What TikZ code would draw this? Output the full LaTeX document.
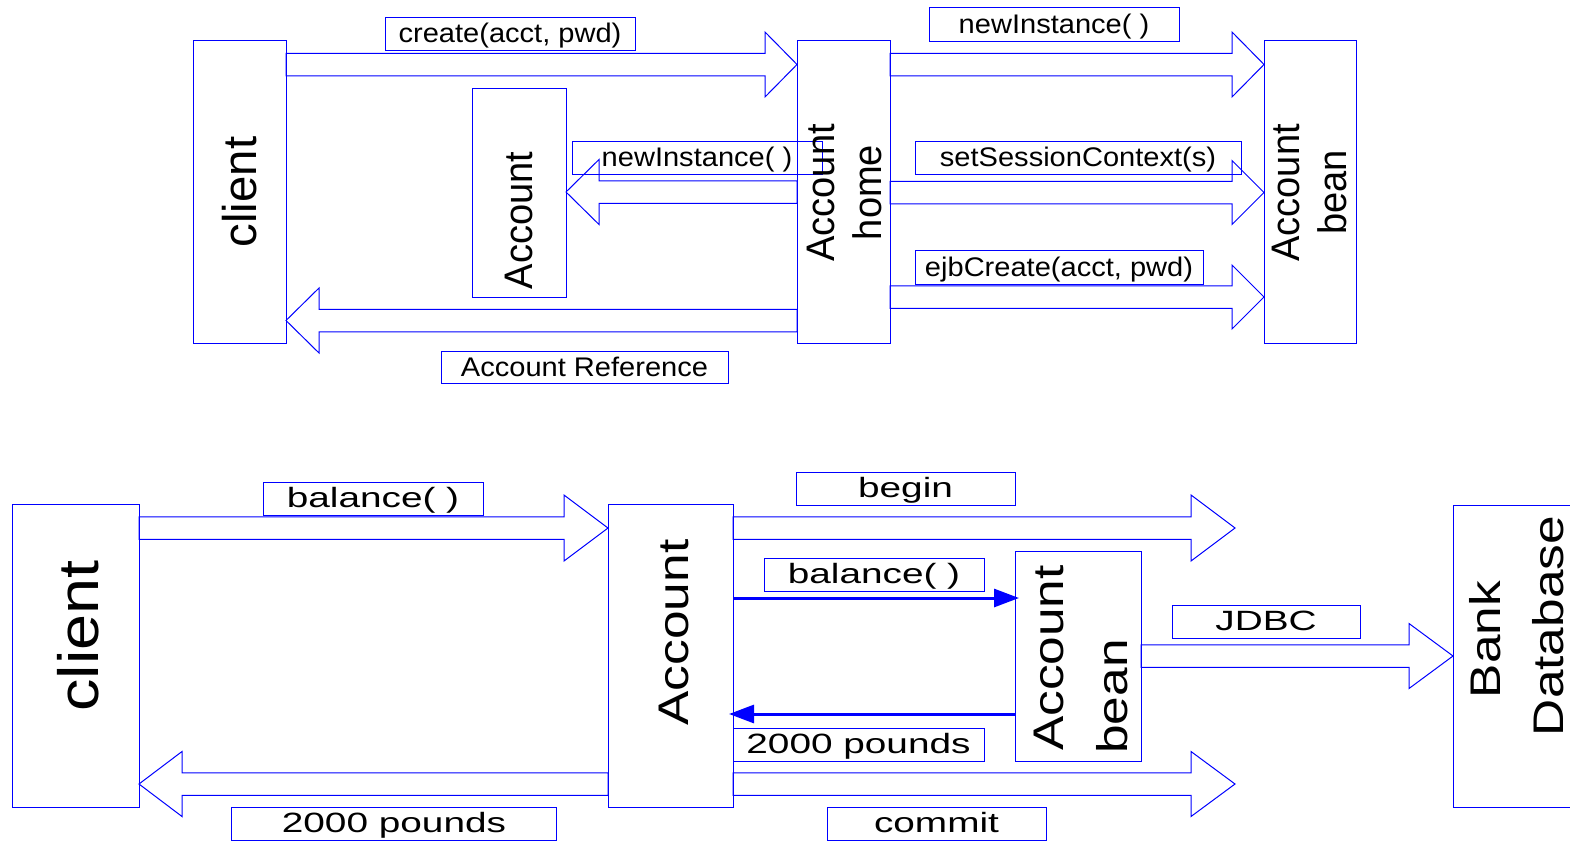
\documentclass[tikz,border=0pt]{standalone}
\usepackage{fontspec}
\setmainfont{Liberation Sans}
\newfontfamily\toplabelfont[FakeStretch=1.08]{Liberation Sans}
\newfontfamily\topbigfont[FakeStretch=0.955]{Liberation Sans}
\newfontfamily\botlabelfont[FakeStretch=1.39]{Liberation Sans}
\newfontfamily\botbigfont[FakeStretch=1.2]{Liberation Sans}
\newfontfamily\botclientfont[FakeStretch=1.14]{Liberation Sans}
\usetikzlibrary{calc,arrows.meta}

% hollow block arrow: #1 start anchor, #2 end anchor, #3 axis y, #4 head length, #5 head half width
\newcommand\blockarrow[5]{%
  \draw[blk] let \p1=(#1), \p2=(#2), \p3=(0,#3),
      \n1={ifthenelse(\x2>\x1,1,-1)} in
    (\x1,{\y3+11.25bp}) -- ({\x2-(\n1)*#4},{\y3+11.25bp})
    -- ({\x2-(\n1)*#4},{\y3+#5}) -- (\x2,\y3)
    -- ({\x2-(\n1)*#4},{\y3-#5}) -- ({\x2-(\n1)*#4},{\y3-11.25bp})
    -- (\x1,{\y3-11.25bp}) -- cycle;}

\tikzset{
  box/.style={draw=blue, line width=1bp, inner sep=0pt, outer sep=0pt, rectangle},
  tlabel/.style={box, text height=24bp, text depth=6bp,
    font=\toplabelfont\fontsize{27}{30}\selectfont},
  blabel/.style={box, text height=24bp, text depth=6bp,
    font=\botlabelfont\fontsize{28}{30}\selectfont},
  vtext/.style={rotate=90, anchor=base, inner sep=0pt},
  vtop/.style={vtext, font=\topbigfont\fontsize{40}{47}\selectfont},
  vtopclient/.style={vtext, font=\fontsize{47.5}{50}\selectfont},
  vbot/.style={vtext, font=\botbigfont\fontsize{43}{50}\selectfont},
  vbotclient/.style={vtext, font=\botclientfont\fontsize{57}{60}\selectfont},
  blk/.style={draw=blue, line width=1bp, line join=miter},
  callarrow/.style={draw=blue, line width=3bp, shorten >=-4bp,
    -{Triangle[length=25bp,width=18bp]}},
}

\begin{document}
\begin{tikzpicture}[x=1bp, y=-1bp]
\useasboundingbox (0,0) rectangle (1570,841);

% ---------- creation sequence ----------
\node[box, minimum width=93bp, minimum height=302bp] (cA) at (239.5,192) {};
\node[box, minimum width=94bp, minimum height=209bp] (accA) at (519,192.5) {};
\node[box, minimum width=93bp, minimum height=302bp] (home) at (843.5,192) {};
\node[box, minimum width=92bp, minimum height=302bp] (beanA) at (1310,192) {};

\blockarrow{cA.east}{home.west}{64.5}{32bp}{32.5bp}
\blockarrow{home.east}{beanA.west}{64.5}{32bp}{32.5bp}
\blockarrow{home.east}{beanA.west}{192.5}{32bp}{32bp}
\blockarrow{home.east}{beanA.west}{297}{32bp}{32bp}
\blockarrow{home.west}{accA.east}{192}{33bp}{32.5bp}
\blockarrow{home.west}{cA.east}{320.5}{33bp}{32.5bp}

\node[tlabel, minimum width=250bp, minimum height=33bp] (lcreate) at (510,33.5) {create(acct, pwd)};
\node[tlabel, minimum width=250bp, minimum height=33bp] (lnew1) at (1054,24.5) {newInstance( )};
\node[tlabel, minimum width=250bp, minimum height=33bp] (lnew2) at (697,157.5) {newInstance( )};
\node[tlabel, minimum width=326bp, minimum height=33bp] (lsess) at (1078,157.5) {setSessionContext(s)};
\node[tlabel, minimum width=288bp, minimum height=34bp] (lejb) at (1059,267) {ejbCreate(acct, pwd)};
\node[tlabel, minimum width=287bp, minimum height=32bp] (lref) at (584.5,367) {Account Reference};

\node[vtopclient] (tcA) at (256,192) {client};
\node[vtop] (taccA) at (532,220.5) {Account};
\node[vtop] (thome1) at (834,193) {Account};
\node[vtop] (thome2) at (881,192.5) {home};
\node[vtop] (tbeanA1) at (1299,193) {Account};
\node[vtop] (tbeanA2) at (1346,192.5) {bean};

% ---------- balance query ----------
\node[box, minimum width=126bp, minimum height=303bp] (cB) at (76,655.5) {};
\node[box, minimum width=125bp, minimum height=303bp] (accB) at (670.5,655.5) {};
\node[box, minimum width=126bp, minimum height=210bp] (beanB) at (1078,656) {};
\node[box, minimum width=147bp, minimum height=302bp] (db) at (1526.5,656) {};

\coordinate (beginEnd) at (1235,528);
\coordinate (commitEnd) at (1235,784);
\blockarrow{cB.east}{accB.west}{528}{44bp}{33bp}
\blockarrow{accB.east}{beginEnd}{528}{44bp}{33bp}
\blockarrow{beanB.east}{db.west}{656}{44bp}{32.5bp}
\blockarrow{accB.east}{commitEnd}{784}{44bp}{32.5bp}
\blockarrow{accB.west}{cB.east}{784}{43bp}{32.5bp}

\draw[callarrow] let \p1=(accB.east), \p2=(beanB.west), \p3=(0,598) in (\x1,\y3) -- (\x2,\y3);
\draw[callarrow] let \p1=(beanB.west), \p2=(accB.east), \p3=(0,714) in (\x1,\y3) -- (\x2,\y3);

\node[blabel, minimum width=220bp, minimum height=33bp] (lbal1) at (373,498.5) {balance( )};
\node[blabel, minimum width=325bp, minimum height=33bp] (lpnd1) at (394,823.5) {2000 pounds};
\node[blabel, minimum width=219bp, minimum height=33bp] (lbegin) at (905.5,488.5) {begin};
\node[blabel, minimum width=220bp, minimum height=33bp] (lbal2) at (874,574.5) {balance( )};
\node[blabel, minimum width=251bp, minimum height=33bp] (lpnd2) at (858.5,744.5) {2000 pounds};
\node[blabel, minimum width=219bp, minimum height=33bp] (lcommit) at (936.5,823.5) {commit};
\node[blabel, minimum width=188bp, minimum height=33bp] (ljdbc) at (1266,621.5) {JDBC};

\node[vbotclient] (tcB) at (98,636) {client};
\node[vbot] (taccB) at (688,632.5) {Account};
\node[vbot] (tbeanB1) at (1063,658) {Account};
\node[vbot] (tbeanB2) at (1127,696.5) {bean};
\node[vbot] (tbank) at (1500,639.5) {Bank};
\node[vbot] (tdb) at (1563,626) {Database};
\end{tikzpicture}
\end{document}
